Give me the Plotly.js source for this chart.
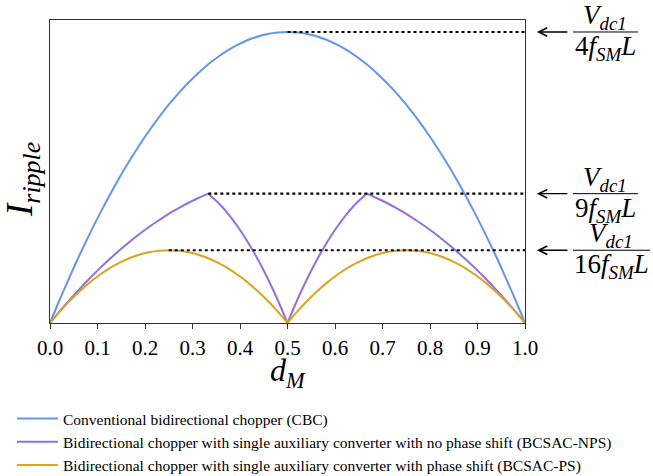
<!DOCTYPE html>
<html>
<head>
<meta charset="utf-8">
<script src="https://cdn.plot.ly/plotly-3.0.1.min.js"></script>
<style>
  html, body { margin: 0; padding: 0; background: #fff; }
  #chart { width: 653px; height: 476px; }
</style>
</head>
<body>
<div id="chart"></div>
<script>
// Duty ratio samples d_M
const dM = [0, 0.0208, 0.0417, 0.0625, 0.0833, 0.1042, 0.125, 0.1458, 0.1667, 0.1875,
  0.2083, 0.2292, 0.25, 0.2708, 0.2917, 0.3125, 0.3333, 0.3542, 0.375, 0.3958,
  0.4167, 0.4375, 0.4583, 0.4792, 0.5, 0.5208, 0.5417, 0.5625, 0.5833, 0.6042,
  0.625, 0.6458, 0.6667, 0.6875, 0.7083, 0.7292, 0.75, 0.7708, 0.7917, 0.8125,
  0.8333, 0.8542, 0.875, 0.8958, 0.9167, 0.9375, 0.9583, 0.9792, 1];

// Ripple current (normalised to V_dc1 / (f_SM L))
const rippleCBC = [0, 0.0204, 0.0399, 0.0586, 0.0764, 0.0933, 0.1094, 0.1246, 0.1389, 0.1523,
  0.1649, 0.1766, 0.1875, 0.1975, 0.2066, 0.2148, 0.2222, 0.2287, 0.2344, 0.2391,
  0.2431, 0.2461, 0.2483, 0.2496, 0.25, 0.2496, 0.2483, 0.2461, 0.2431, 0.2391,
  0.2344, 0.2287, 0.2222, 0.2148, 0.2066, 0.1975, 0.1875, 0.1766, 0.1649, 0.1523,
  0.1389, 0.1246, 0.1094, 0.0933, 0.0764, 0.0586, 0.0399, 0.0204, 0];

const rippleNPS = [0, 0.0102, 0.0200, 0.0293, 0.0382, 0.0467, 0.0547, 0.0623, 0.0694, 0.0762,
  0.0825, 0.0883, 0.0938, 0.0987, 0.1033, 0.1074, 0.1111, 0.1033, 0.0938, 0.0825,
  0.0694, 0.0547, 0.0382, 0.0200, 0, 0.0200, 0.0382, 0.0547, 0.0694, 0.0825,
  0.0938, 0.1033, 0.1111, 0.1074, 0.1033, 0.0987, 0.0938, 0.0883, 0.0825, 0.0762,
  0.0694, 0.0623, 0.0547, 0.0467, 0.0382, 0.0293, 0.0200, 0.0102, 0];

const ripplePS = [0, 0.0100, 0.0191, 0.0273, 0.0347, 0.0412, 0.0469, 0.0516, 0.0556, 0.0586,
  0.0608, 0.0621, 0.0625, 0.0621, 0.0608, 0.0586, 0.0556, 0.0516, 0.0469, 0.0412,
  0.0347, 0.0273, 0.0191, 0.0100, 0, 0.0100, 0.0191, 0.0273, 0.0347, 0.0412,
  0.0469, 0.0516, 0.0556, 0.0586, 0.0608, 0.0621, 0.0625, 0.0621, 0.0608, 0.0586,
  0.0556, 0.0516, 0.0469, 0.0412, 0.0347, 0.0273, 0.0191, 0.0100, 0];

const seriesNames = [
  'Conventional bidirectional chopper (CBC)',
  'Bidirectional chopper with single auxiliary converter with no phase shift (BCSAC-NPS)',
  'Bidirectional chopper with single auxiliary converter with phase shift (BCSAC-PS)'
];
const seriesColors = ['#6495ED', '#9370DB', '#DAA520'];

// Index breakpoints where each curve has a corner (cusp), so every smooth
// piece is drawn as its own spline and the corners stay sharp
const seriesBreaks = [[0, 48], [0, 16, 24, 32, 48], [0, 24, 48]];

// Peak ripple levels, where they occur, and the denominator factor of each label
const peakLevel = [0.25, 0.1111, 0.0625];
const peakAt = [0.5, 0.3333, 0.25];
const peakFactor = ['4', '9', '16'];

const xTicks = [0, 0.1, 0.2, 0.3, 0.4, 0.5, 0.6, 0.7, 0.8, 0.9, 1.0];
const xTickText = ['0.0', '0.1', '0.2', '0.3', '0.4', '0.5', '0.6', '0.7', '0.8', '0.9', '1.0'];

const serif = 'Liberation Serif';

const data = [];
[rippleCBC, rippleNPS, ripplePS].forEach((y, i) => {
  const br = seriesBreaks[i];
  for (let s = 0; s < br.length - 1; s++) {
    data.push({
      type: 'scatter',
      mode: 'lines',
      x: dM.slice(br[s], br[s + 1] + 1),
      y: y.slice(br[s], br[s + 1] + 1),
      name: seriesNames[i],
      legendgroup: 'g' + i,
      showlegend: s === 0,
      line: { color: seriesColors[i], width: 2, shape: 'spline', smoothing: 1 },
      cliponaxis: false
    });
  }
});

const plotW = 475, plotH = 303;
const shapes = [];
const annotations = [];
const fracLeft = 1.101;
const fracW = [65, 65, 77];
peakLevel.forEach((lvl, i) => {
  // dotted guide from the peak to the right edge
  shapes.push({
    type: 'line', xref: 'x', yref: 'y',
    x0: peakAt[i], x1: 1.006, y0: lvl, y1: lvl,
    line: { color: '#000', width: 2.2, dash: 'dot' }
  });
  // fraction bar
  shapes.push({
    type: 'line', xref: 'paper', yref: 'y',
    x0: fracLeft, x1: fracLeft + fracW[i] / plotW, y0: lvl, y1: lvl,
    line: { color: '#000', width: 1 }
  });
  // arrow pointing at the guide line
  annotations.push({
    xref: 'paper', yref: 'y', x: 1.025, y: lvl,
    text: '', showarrow: true, arrowhead: 5, arrowsize: 1.2, arrowwidth: 1.4,
    arrowcolor: '#000', ax: 32, ay: 0
  });
  const cx = fracLeft + fracW[i] / 2 / plotW;
  annotations.push({
    xref: 'paper', yref: 'y', x: cx, y: lvl, yanchor: 'bottom', xanchor: 'center',
    yshift: -4, showarrow: false,
    text: '<i>V</i><sub><i>dc1</i></sub>',
    font: { family: serif, size: 27, color: '#000' }
  });
  annotations.push({
    xref: 'paper', yref: 'y', x: cx, y: lvl, yanchor: 'top', xanchor: 'center',
    yshift: 3, showarrow: false,
    text: peakFactor[i] + '<i>f</i><sub><i>SM</i></sub><i>L</i>',
    font: { family: serif, size: 27, color: '#000' }
  });
});

// axis titles
annotations.push({
  xref: 'paper', yref: 'paper', x: 0.5, y: (323 - 372) / plotH,
  xanchor: 'center', yanchor: 'middle', showarrow: false,
  text: '<i>d</i><sub><i>M</i></sub>',
  font: { family: serif, size: 32, color: '#000' }
});
annotations.push({
  xref: 'paper', yref: 'paper', x: (23 - 50) / plotW, y: (323 - 180) / plotH,
  xanchor: 'center', yanchor: 'middle', showarrow: false, textangle: -90,
  text: '<i>I</i><sub><i>ripple</i></sub>',
  font: { family: serif, size: 37, color: '#000' }
});

const layout = {
  width: 653, height: 476,
  margin: { l: 50, r: 128, t: 20, b: 153, autoexpand: false },
  paper_bgcolor: '#fff', plot_bgcolor: '#fff',
  font: { family: serif, color: '#000' },
  showlegend: true,
  legend: {
    x: (12 - 50) / plotW, y: -(402 - 323) / plotH,
    xanchor: 'left', yanchor: 'top',
    font: { family: serif, size: 15.5, color: '#000' },
    itemwidth: 41,
    bgcolor: 'rgba(0,0,0,0)', tracegroupgap: 0
  },
  xaxis: {
    range: [0, 1], tickvals: xTicks, ticktext: xTickText,
    ticks: 'outside', ticklen: 5, tickcolor: '#333', tickwidth: 1,
    tickfont: { family: serif, size: 21, color: '#000' },
    showline: true, linecolor: '#333', linewidth: 1.3, mirror: true,
    showgrid: false, zeroline: false
  },
  yaxis: {
    range: [0, 0.2603],
    showticklabels: false, ticks: '',
    showline: true, linecolor: '#333', linewidth: 1.3, mirror: true,
    showgrid: false, zeroline: false
  },
  shapes: shapes,
  annotations: annotations
};

Plotly.newPlot('chart', data, layout, { displayModeBar: false, staticPlot: true });
</script>
</body>
</html>
